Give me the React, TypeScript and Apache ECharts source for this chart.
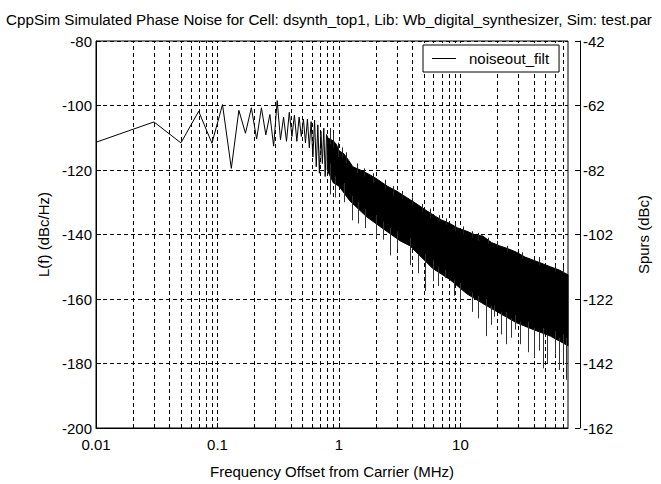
import React, { useEffect, useRef } from "react";
import * as echarts from "echarts";

// ---- data ----
// low-offset part of the trace (individually visible FFT bins)
const zigFreq = [0.01, 0.03, 0.05, 0.07, 0.09, 0.11, 0.13, 0.15, 0.17, 0.19, 0.21, 0.23, 0.25, 0.27, 0.29, 0.31, 0.33, 0.35, 0.37, 0.39, 0.41, 0.43, 0.45, 0.47, 0.49, 0.51, 0.53, 0.55, 0.57, 0.59, 0.61, 0.63, 0.65, 0.67, 0.69, 0.71, 0.73, 0.75, 0.77, 0.79, 0.81];
const zigLevel = [-111.4, -105.1, -111.6, -101.8, -111.7, -99.7, -119.5, -101.5, -108.6, -100.7, -110.4, -100.7, -109.1, -102.8, -112.6, -98.5, -110.6, -103.6, -111.1, -102.1, -109.6, -103.0, -111.1, -103.6, -109.6, -104.2, -111.6, -104.2, -113.1, -105.0, -116, -104.5, -119, -106, -121, -108, -118, -107, -122, -109, -110];

// dense part: upper and lower edge of the solid black band
const upperFreq = [0.8, 0.85, 0.9, 0.95, 1.0, 1.1, 1.2, 1.3, 1.5, 1.7, 2.0, 2.5, 3.0, 3.6, 4.4, 5.2, 6.0, 7.0, 8.2, 9.5, 11.3, 13, 15.3, 18, 21, 25, 29, 34, 40, 47, 55, 65, 76.8];
const upperLevel = [-110, -110.5, -111, -112, -114, -115, -117, -119, -120, -121, -122.5, -125, -126.6, -128.5, -130.6, -132.5, -134, -135.5, -136.6, -138, -139, -140, -140.5, -142.5, -143.5, -144.5, -145.5, -147, -148, -149, -150, -151, -152.5];
const lowerFreq = [0.8, 0.9, 1.0, 1.23, 1.7, 2.6, 3.2, 3.84, 5.9, 8.2, 11.3, 15.3, 21, 29, 40, 55, 76.8];
const lowerLevel = [-120, -124, -125, -129.6, -134.6, -139.6, -142, -143.5, -150.5, -154, -158.4, -161.4, -164.4, -167.4, -169.5, -171.5, -174.5];

// downward spikes below the band: frequency, start level, end level
const spikeFreq = [0.84, 0.92, 1.1, 1.28, 1.43, 1.63, 2.0, 2.3, 2.63, 3.0, 3.84, 4.5, 5.1, 5.9, 6.5, 7.4, 8.8, 9.9, 12.5, 14, 16.2, 18, 19.0, 21.5, 23.5, 26, 27.9, 31, 36.0, 40, 44, 47.9, 52, 59.7, 65, 69.4, 73.8];
const spikeTop = [-118, -122, -124, -128, -130, -132, -134, -136, -138, -139, -141, -146, -146, -148, -150, -151, -154, -155, -158, -159, -160, -162, -162, -164, -164, -166, -165, -167, -167, -169, -170, -169, -171, -170, -172, -171, -172];
const spikeLow = [-127.6, -128.5, -130, -135.6, -136.6, -138, -141, -141.6, -146.5, -144.6, -149.5, -152, -157.5, -154.5, -156, -153.5, -159, -160.5, -164, -166, -171.5, -168, -165.5, -171, -174, -172, -169.5, -174, -176.5, -178, -176, -181.5, -180, -177, -182, -179.4, -185];

// short upward spikes on the top edge of the band
const topSpikeFreq = [0.85, 0.9, 0.98, 1.05, 1.15, 1.4, 1.6, 1.9, 2.4, 2.8, 3.3, 4.0, 4.8, 5.6, 6.6, 7.6, 9, 10.5, 12.5, 14, 17, 20, 24, 32, 44, 60, 70];
const topSpikeBase = [-112, -113, -116, -116, -118, -121, -122, -124, -126, -128, -129, -131, -133, -135, -136, -137, -139, -140, -141, -142, -143, -144, -145.5, -147.5, -149.5, -151.5, -152];
const topSpikePeak = [-107, -108.5, -111.5, -113, -114.5, -118, -119.5, -121, -123, -125, -126.5, -128.5, -130.5, -132, -134, -135, -136.5, -137.5, -139, -139.5, -141, -142, -143.5, -145.5, -147, -149.5, -150];

// axes
const xMin = 0.01;
const xMax = 76.8;
const yMin = -200;
const yMax = -80;
const yStep = 20;
const xGridFreqs = [
  0.02, 0.03, 0.04, 0.05, 0.06, 0.07, 0.08, 0.09, 0.1,
  0.2, 0.3, 0.4, 0.5, 0.6, 0.7, 0.8, 0.9, 1,
  2, 3, 4, 5, 6, 7, 8, 9, 10,
  20, 30, 40, 50, 60, 70,
];
const xTickLabels: Record<string, string> = { "0.01": "0.01", "0.1": "0.1", "1": "1", "10": "10" };
const rightTickLabels = ["-162", "-142", "-122", "-102", "-82", "-62", "-42"];

const seriesName = "noiseout_filt";
const titleText = "CppSim Simulated Phase Noise for Cell: dsynth_top1, Lib: Wb_digital_synthesizer, Sim: test.par";
const FONT = "'Liberation Sans', Arial, Helvetica, sans-serif";

export default function App() {
  const ref = useRef<HTMLDivElement>(null);

  useEffect(() => {
    if (!ref.current) return;
    const chart = echarts.init(ref.current, undefined, { renderer: "svg" });

    const px = (v: number) => Math.round(v) + 0.5;

    const segmentSeries = (name: string, f: number[], a: number[], b: number[], color: string) => ({
      name,
      type: "custom",
      z: 3,
      silent: true,
      data: f.map((v, i) => [v, a[i], b[i]]),
      encode: { x: 0, y: [1, 2] },
      renderItem: (_p: any, api: any) => {
        const p1 = api.coord([api.value(0), api.value(1)]);
        const p2 = api.coord([api.value(0), api.value(2)]);
        return {
          type: "line",
          shape: { x1: px(p1[0]), y1: p1[1], x2: px(p2[0]), y2: p2[1] },
          style: { stroke: color, lineWidth: 1 },
        };
      },
    });

    const option: any = {
      animation: false,
      backgroundColor: "#fff",
      textStyle: { fontFamily: FONT, color: "#000" },
      graphic: [
        {
          type: "text",
          x: 329,
          y: 19,
          style: {
            text: titleText,
            fontFamily: FONT,
            fontSize: 15.2,
            fill: "#000",
            align: "center",
            verticalAlign: "middle",
          },
        },
      ],
      grid: {
        left: 96,
        right: 93,
        top: 41,
        bottom: 42,
        show: true,
        backgroundColor: "#fff",
        borderColor: "#000",
        borderWidth: 1,
      },
      legend: {
        data: [{ name: seriesName, icon: "rect" }],
        left: 423,
        top: 45,
        itemWidth: 24,
        itemHeight: 1,
        padding: [6, 10, 6, 9],
        borderColor: "#000",
        borderWidth: 1,
        backgroundColor: "#fff",
        borderRadius: 0,
        textStyle: { fontFamily: FONT, fontSize: 15, color: "#000", padding: [0, 0, 0, 8] },
        itemStyle: { color: "#000" },
      },
      xAxis: {
        type: "log",
        logBase: 10,
        min: xMin,
        max: xMax,
        name: "Frequency Offset from Carrier (MHz)",
        nameLocation: "middle",
        nameGap: 36,
        nameTextStyle: { fontFamily: FONT, fontSize: 15, color: "#000" },
        axisLine: { show: true, onZero: false, lineStyle: { color: "#000", width: 1 } },
        axisTick: { show: true, inside: true, length: 5, lineStyle: { color: "#000" } },
        axisLabel: {
          fontFamily: FONT,
          fontSize: 15,
          color: "#000",
          margin: 9,
          showMaxLabel: false,
          formatter: (v: number) => xTickLabels[String(Number(v.toPrecision(6)))] ?? "",
        },
        splitLine: { show: false },
      },
      yAxis: [
        {
          type: "value",
          min: yMin,
          max: yMax,
          interval: yStep,
          name: "L(f) (dBc/Hz)",
          nameLocation: "middle",
          nameRotate: 90,
          nameGap: 19,
          nameTextStyle: { fontFamily: FONT, fontSize: 15, color: "#000" },
          axisLine: { show: true, lineStyle: { color: "#000", width: 1 } },
          axisTick: { show: true, inside: true, length: 5, lineStyle: { color: "#000" } },
          axisLabel: { fontFamily: FONT, fontSize: 15, color: "#000", margin: 4 },
          splitLine: { show: true, lineStyle: { color: "#000", width: 1, type: [4, 3] } },
        },
        {
          type: "value",
          position: "right",
          offset: 12,
          min: yMin,
          max: yMax,
          interval: yStep,
          name: "Spurs (dBc)",
          nameLocation: "middle",
          nameRotate: 90,
          nameGap: 56,
          nameTextStyle: { fontFamily: FONT, fontSize: 15, color: "#000" },
          axisLine: { show: true, lineStyle: { color: "#000", width: 1 } },
          axisTick: { show: true, inside: true, length: 5, lineStyle: { color: "#000" } },
          axisLabel: {
            fontFamily: FONT,
            fontSize: 15,
            color: "#000",
            margin: 3,
            formatter: (_v: number, i: number) => rightTickLabels[i] ?? "",
          },
          splitLine: { show: false },
        },
      ],
      series: [
        {
          name: "vgrid",
          type: "custom",
          silent: true,
          z: 1,
          data: xGridFreqs.map((f) => [f, yMin, yMax]),
          encode: { x: 0, y: [1, 2] },
          renderItem: (_p: any, api: any) => {
            const a = api.coord([api.value(0), api.value(1)]);
            const b = api.coord([api.value(0), api.value(2)]);
            return {
              type: "line",
              shape: { x1: px(a[0]), y1: a[1], x2: px(b[0]), y2: b[1] },
              style: { stroke: "#000", lineWidth: 1, lineDash: [4, 3] },
            };
          },
        },
        {
          name: seriesName,
          type: "line",
          z: 3,
          symbol: "none",
          data: zigFreq.map((f, i) => [f, zigLevel[i]]),
          lineStyle: { color: "#000", width: 1 },
          itemStyle: { color: "#000" },
        },
        {
          name: "band",
          type: "custom",
          z: 3,
          silent: true,
          data: [[upperFreq[0], upperLevel[0]]],
          encode: { x: 0, y: 1 },
          renderItem: (_p: any, api: any) => {
            const pts: number[][] = [];
            upperFreq.forEach((f, i) => pts.push(api.coord([f, upperLevel[i]])));
            for (let i = lowerFreq.length - 1; i >= 0; i--) pts.push(api.coord([lowerFreq[i], lowerLevel[i]]));
            return {
              type: "polygon",
              shape: { points: pts },
              style: { fill: "#000", stroke: "#000", lineWidth: 1 },
            };
          },
        },
        segmentSeries("spikes", spikeFreq, spikeTop, spikeLow, "#333"),
        segmentSeries("topSpikes", topSpikeFreq, topSpikeBase, topSpikePeak, "#222"),
      ],
    };

    chart.setOption(option);
    return () => chart.dispose();
  }, []);

  return (
    <div
      ref={ref}
      style={{ position: "fixed", left: 0, top: 0, width: 661, height: 484, background: "#fff" }}
    />
  );
}
